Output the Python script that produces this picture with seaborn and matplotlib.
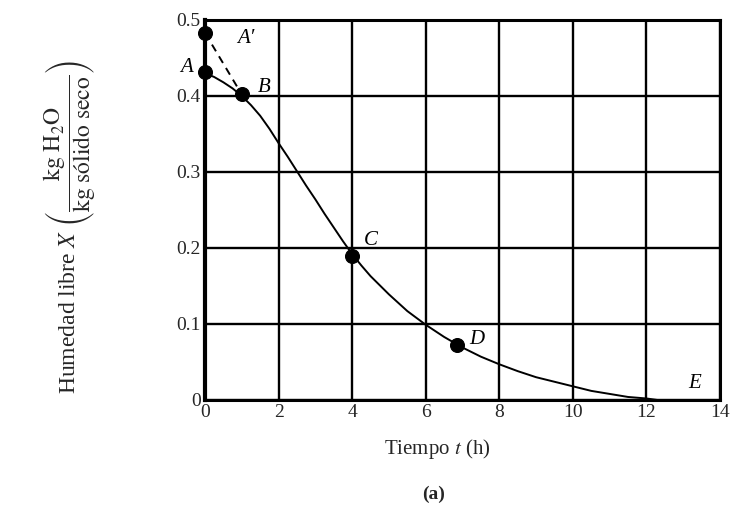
import matplotlib
matplotlib.use("Agg")
import matplotlib.pyplot as plt
import seaborn as sns
import pandas as pd

# ---- data ----
t_curve = [0, 0.25, 0.5, 0.75, 1, 1.25, 1.5, 1.75, 2, 2.25, 2.5, 2.75, 3, 3.25, 3.5,
           3.75, 4, 4.25, 4.5, 4.75, 5, 5.25, 5.5, 5.75, 6, 6.5, 7, 7.5, 8, 8.5, 9,
           9.5, 10, 10.5, 11, 11.5, 12, 12.3]
X_curve = [0.430, 0.425, 0.418, 0.410, 0.400, 0.388, 0.374, 0.357, 0.338, 0.320,
           0.301, 0.282, 0.264, 0.245, 0.227, 0.209, 0.192, 0.177, 0.163, 0.151,
           0.139, 0.128, 0.117, 0.108, 0.099, 0.083, 0.069, 0.057, 0.047, 0.038,
           0.030, 0.024, 0.018, 0.012, 0.008, 0.004, 0.002, 0.0]
t_dash = [0, 1]
X_dash = [0.483, 0.402]
pt_names = ["A′", "A", "B", "C", "D"]
pt_t = [0, 0, 1, 4, 6.84]
pt_X = [0.483, 0.432, 0.402, 0.19, 0.073]
x_ticks = [0, 2, 4, 6, 8, 10, 12, 14]
y_ticks = [0, 0.1, 0.2, 0.3, 0.4, 0.5]
y_ticklabels = ["0", "0.1", "0.2", "0.3", "0.4", "0.5"]

sns.set_style("white")
plt.rcParams["font.family"] = ["Liberation Serif", "DejaVu Serif"]
plt.rcParams["mathtext.fontset"] = "stix"

fig = plt.figure(figsize=(7.38, 5.12), dpi=100)
ax = fig.add_axes([205 / 738, 1 - 400 / 512, 515 / 738, 380 / 512])

df_curve = pd.DataFrame({"t": t_curve, "X": X_curve})
df_dash = pd.DataFrame({"t": t_dash, "X": X_dash})
df_pts = pd.DataFrame({"t": pt_t, "X": pt_X, "name": pt_names})

sns.lineplot(data=df_curve, x="t", y="X", ax=ax, color="black", lw=1.4,
             sort=False, estimator=None, zorder=3)
sns.lineplot(data=df_dash, x="t", y="X", ax=ax, color="black", lw=1.4,
             linestyle=(0, (4, 3)), sort=False, estimator=None, zorder=3)
sns.scatterplot(data=df_pts, x="t", y="X", ax=ax, color="black", s=100,
                edgecolor="black", zorder=5, clip_on=False)

ax.set_xlim(0, 14)
ax.set_ylim(0, 0.5)
ax.set_xticks(x_ticks)
ax.set_xticklabels([str(v) for v in x_ticks])
ax.set_yticks(y_ticks)
ax.set_yticklabels(y_ticklabels)
ax.tick_params(axis="both", length=0, labelsize=14, pad=3)
ax.grid(True, color="black", lw=1.7)
for s in ax.spines.values():
    s.set_color("black")
    s.set_linewidth(2.2)
ax.spines["left"].set_linewidth(3)
ax.set_xlabel("")
ax.set_ylabel("")

# point labels
lab_style = dict(fontsize=15, style="italic", color="black")
ax.text(1.1, 0.476, "A′", ha="center", va="center", **lab_style)
ax.text(-0.5, 0.437, "A", ha="center", va="center", clip_on=False, **lab_style)
ax.text(1.6, 0.411, "B", ha="center", va="center", **lab_style)
ax.text(4.5, 0.21, "C", ha="center", va="center", **lab_style)
ax.text(7.4, 0.08, "D", ha="center", va="center", **lab_style)
ax.text(13.3, 0.022, "E", ha="center", va="center", **lab_style)

fig.text(437 / 738, 1 - 449 / 512, r"Tiempo $t$ (h)", ha="center", va="center", fontsize=15)
fig.text(434 / 738, 1 - 494 / 512, "(a)", ha="center", va="center", fontsize=14,
         fontweight="bold")
fig.text(70 / 738, 1 - 227 / 512,
         r"Humedad libre $X$ $\left(\dfrac{\mathrm{kg\ H_2O}}{\mathrm{kg\ sólido\ seco}}\right)$",
         rotation=90, ha="center", va="center", fontsize=17)

fig.savefig("out.png", dpi=100)
